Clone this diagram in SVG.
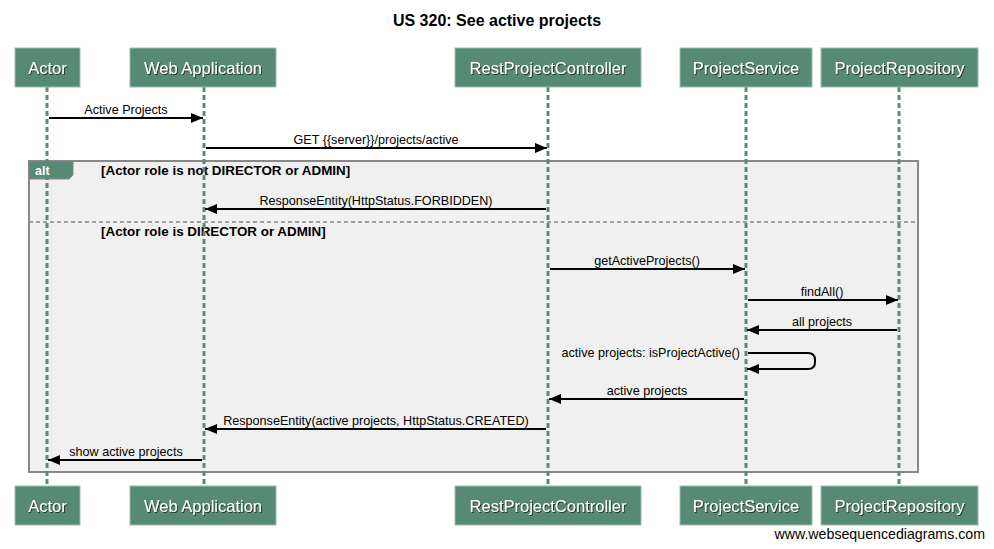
<svg xmlns="http://www.w3.org/2000/svg" width="994" height="549" viewBox="0 0 994 549">
<style>
.box{fill:#578a74;stroke:#9dbdaf;stroke-width:1}
.bl{font-family:"Liberation Sans",Arial,sans-serif;font-size:16.5px;fill:#fff;text-anchor:middle;filter:url(#sh)}
.life{stroke:#5a8a78;stroke-width:3;stroke-dasharray:5,3;fill:none}
.msg{stroke:#000;stroke-width:2;fill:none}
.ml{font-family:"Liberation Sans",Arial,sans-serif;font-size:12.6px;fill:#000;text-anchor:middle}
.g{font-family:"Liberation Sans",Arial,sans-serif;font-size:13.4px;font-weight:bold;fill:#000}
</style>
<defs>
<filter id="sh" x="-10%" y="-30%" width="130%" height="170%"><feDropShadow dx="1" dy="1" stdDeviation="0.6" flood-color="#1a2e26" flood-opacity="0.9"/></filter>
<marker id="ah" markerWidth="12" markerHeight="10" refX="12" refY="5" orient="auto" markerUnits="userSpaceOnUse"><path d="M0,0 L12,5 L0,10 Z" fill="#000"/></marker>
</defs>
<rect width="994" height="549" fill="#fff"/>
<text x="497" y="26" font-family="Liberation Sans,Arial,sans-serif" font-size="16" font-weight="bold" text-anchor="middle" fill="#000">US 320: See active projects</text>

<g id="alt-frame">
<rect x="29" y="161" width="889" height="311" fill="#f0f0f0" stroke="#888" stroke-width="2"/>
<path d="M29,161 H73 V175 L69,179 H29 Z" fill="#578a74" stroke="#888" stroke-width="1"/>
<line x1="29" y1="222" x2="918" y2="222" stroke="#888" stroke-width="1.5" stroke-dasharray="4,3"/>
<text class="g" x="101" y="175">[Actor role is not DIRECTOR or ADMIN]</text>
<text class="g" x="101" y="236">[Actor role is DIRECTOR or ADMIN]</text>
</g>

<g id="lifelines">
<line class="life" x1="47" y1="87" x2="47" y2="486"/>
<line class="life" x1="204" y1="87" x2="204" y2="486"/>
<line class="life" x1="548" y1="87" x2="548" y2="486"/>
<line class="life" x1="746" y1="87" x2="746" y2="486"/>
<line class="life" x1="899" y1="87" x2="899" y2="486"/>
</g>
<text x="35" y="175" font-family="Liberation Sans,Arial,sans-serif" font-size="12.5" font-weight="bold" fill="#fff">alt</text>

<g id="node-actor">
<rect class="box" x="15" y="48" width="65" height="39"/><text class="bl" x="47.5" y="74">Actor</text>
<rect class="box" x="15" y="486" width="65" height="39"/><text class="bl" x="47.5" y="512">Actor</text>
</g>
<g id="node-webapp">
<rect class="box" x="130" y="48" width="146" height="39"/><text class="bl" x="203" y="74">Web Application</text>
<rect class="box" x="130" y="486" width="146" height="39"/><text class="bl" x="203" y="512">Web Application</text>
</g>
<g id="node-controller">
<rect class="box" x="455" y="48" width="186" height="39"/><text class="bl" x="548" y="74">RestProjectController</text>
<rect class="box" x="455" y="486" width="186" height="39"/><text class="bl" x="548" y="512">RestProjectController</text>
</g>
<g id="node-service">
<rect class="box" x="680" y="48" width="132" height="39"/><text class="bl" x="746" y="74">ProjectService</text>
<rect class="box" x="680" y="486" width="132" height="39"/><text class="bl" x="746" y="512">ProjectService</text>
</g>
<g id="node-repository">
<rect class="box" x="821" y="48" width="157" height="39"/><text class="bl" x="899.5" y="74">ProjectRepository</text>
<rect class="box" x="821" y="486" width="157" height="39"/><text class="bl" x="899.5" y="512">ProjectRepository</text>
</g>

<g id="connectors">
<line class="msg" x1="49" y1="118" x2="203" y2="118" marker-end="url(#ah)"/>
<text class="ml" x="126" y="114">Active Projects</text>
<line class="msg" x1="206" y1="148" x2="547" y2="148" marker-end="url(#ah)"/>
<text class="ml" x="376" y="144">GET {{server}}/projects/active</text>
<line class="msg" x1="546" y1="209" x2="205" y2="209" marker-end="url(#ah)"/>
<text class="ml" x="376" y="205">ResponseEntity(HttpStatus.FORBIDDEN)</text>
<line class="msg" x1="550" y1="269" x2="745" y2="269" marker-end="url(#ah)"/>
<text class="ml" x="647" y="265">getActiveProjects()</text>
<line class="msg" x1="748" y1="300" x2="898" y2="300" marker-end="url(#ah)"/>
<text class="ml" x="822" y="296">findAll()</text>
<line class="msg" x1="897" y1="330" x2="747" y2="330" marker-end="url(#ah)"/>
<text class="ml" x="822" y="326">all projects</text>
<path class="msg" d="M748,353 H808 Q815,353 815,360 V362 Q815,369 808,369 H747" marker-end="url(#ah)"/>
<text class="ml" x="740" y="357" style="text-anchor:end">active projects: isProjectActive()</text>
<line class="msg" x1="744" y1="399" x2="549" y2="399" marker-end="url(#ah)"/>
<text class="ml" x="647" y="395">active projects</text>
<line class="msg" x1="546" y1="429" x2="205" y2="429" marker-end="url(#ah)"/>
<text class="ml" x="376" y="425">ResponseEntity(active projects, HttpStatus.CREATED)</text>
<line class="msg" x1="202" y1="460" x2="48" y2="460" marker-end="url(#ah)"/>
<text class="ml" x="126" y="456">show active projects</text>
</g>

<text x="985" y="539" font-family="Liberation Sans,Arial,sans-serif" font-size="14.2" text-anchor="end" fill="#000">www.websequencediagrams.com</text>
</svg>
